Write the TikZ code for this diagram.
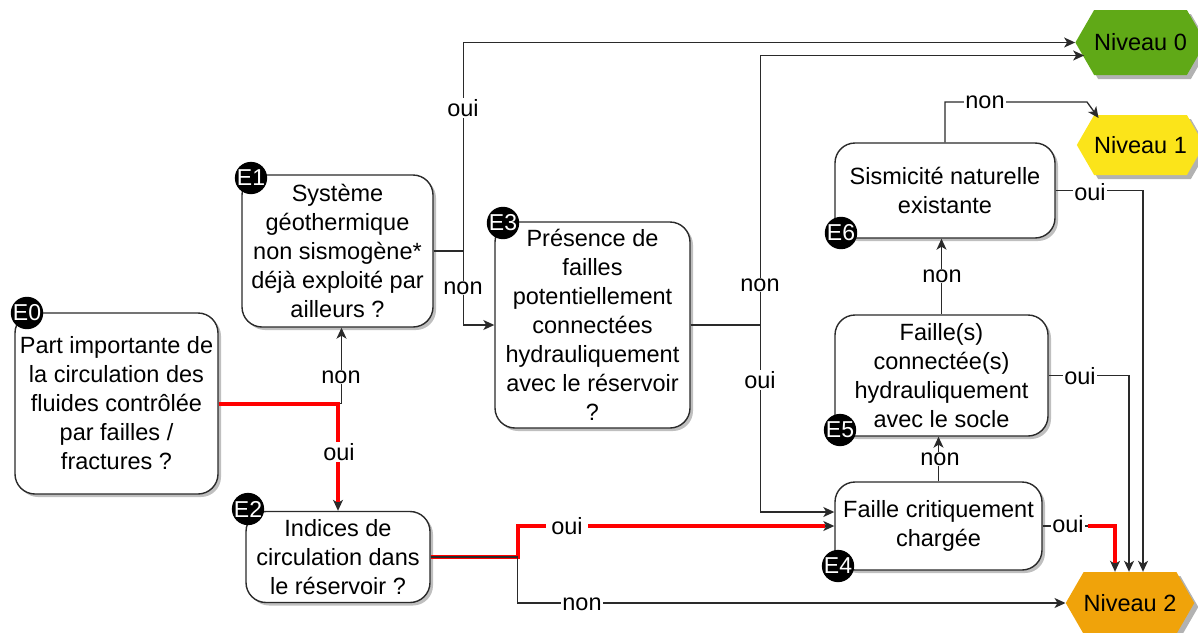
\documentclass[tikz,border=0pt]{standalone}
\usepackage{fontspec}
\setmainfont{Liberation Sans}
\usetikzlibrary{arrows.meta,shapes.symbols,shadows,calc}
\definecolor{nivgreen}{HTML}{60A917}
\definecolor{nivyellow}{HTML}{FBE41A}
\definecolor{nivorange}{HTML}{F0A30A}
\definecolor{ink}{HTML}{2A2A2A}
\begin{document}
\begin{tikzpicture}[x=1pt,y=-1pt,
  box/.style={draw=ink, line width=1.4pt, rounded corners=20pt, fill=white, align=center, inner sep=0pt,
    font=\fontsize{23.5}{29}\selectfont,
    drop shadow={shadow xshift=3pt, shadow yshift=-3pt, opacity=0.25, fill=black}},
  badge/.style={circle, fill=black, text=white, inner sep=0pt, minimum size=31pt,
    font=\fontsize{23}{23}\selectfont},
  hexa/.style={signal, signal to=east and west, signal pointer angle=120, inner sep=0pt,
    font=\fontsize{23.5}{29}\selectfont,
    drop shadow={shadow xshift=4pt, shadow yshift=-4pt, opacity=0.3, fill=black}},
  edge/.style={draw=ink, line width=1.3pt, -{Stealth[length=11pt,width=10pt,inset=3pt]}},
  hot/.style={draw=red, line width=4pt},
  lbl/.style={fill=white, inner sep=1pt, font=\fontsize{23.5}{29}\selectfont}
]
\useasboundingbox (0,0) rectangle (1198,632);

% question boxes
\node[box, minimum width=203, minimum height=181] (e0) at (116.5,403.5)
  {Part importante de\\la circulation des\\fluides contrôlée\\par failles /\\fractures ?};
\node[box, minimum width=191, minimum height=152] (e1) at (337.5,251)
  {Système\\géothermique\\non sismogène*\\déjà exploité par\\ailleurs ?};
\node[box, minimum width=195, minimum height=206] (e3) at (592.5,325)
  {Présence de\\failles\\potentiellement\\connectées\\hydrauliquement\\avec le réservoir\\?};
\node[box, minimum width=184, minimum height=91] (e2) at (338,557)
  {Indices de\\circulation dans\\le réservoir ?};
\node[box, minimum width=207, minimum height=88] (e4) at (938.5,526)
  {Faille critiquement\\chargée};
\node[box, minimum width=213, minimum height=121] (e5) at (941.5,375.5)
  {Faille(s)\\connectée(s)\\hydrauliquement\\avec le socle};
\node[box, minimum width=220, minimum height=95] (e6) at (945,190.5)
  {Sismicité naturelle\\existante};

% levels
\node[hexa, fill=nivgreen, minimum width=115, minimum height=65] (n0) at (1140.5,42.5) {Niveau 0};
\node[hexa, fill=nivyellow, minimum width=115, minimum height=60] (n1) at (1140.5,145) {Niveau 1};
\node[hexa, fill=nivorange, minimum width=113, minimum height=62] (n2) at (1130,603) {Niveau 2};

% badges
\node[badge] (b0) at (27,313) {E0};
\node[badge] (b1) at (251,178) {E1};
\node[badge] (b3) at (503,223) {E3};
\node[badge] (b2) at (248,509) {E2};
\node[badge] (b4) at (838,566) {E4};
\node[badge] (b5) at (840,430) {E5};
\node[badge] (b6) at (841,233) {E6};

% connectors
\draw[edge] (e0.east) -| ($(e1.south)+(4,0)$);
\draw[edge] (e0.east) -| (e2.north);
\draw[hot, shorten >=9pt] (e0.east) -| (e2.north);

\draw[edge] (e1.east) -- ++(30,0) |- (n0.west);
\draw[edge] (e1.east) -- ++(30,0) |- (e3.west);

\draw[edge] (e3.east) -- ++(70,0) |- ($(n0.west)+(9,13)$);
\draw[edge] (e3.east) -- ++(70,0) |- ($(e4.west)+(0,-14)$);

\draw[edge] (e2.east) -- ++(87,0) |- (e4.west);
\draw[hot, shorten >=9pt] (e2.east) -- ++(87,0) |- (e4.west);
\draw[edge] (e2.east) -- ++(87,0) |- (n2.west);

\draw[edge] (e4.east) -| ($(n2.north)+(-15,0)$);
\coordinate (r4) at ($(e4.east)+(45,0)$);
\draw[hot, shorten >=9pt] (r4) -| ($(n2.north)+(-15,0)$);
\draw[edge] (e5.east) -| ($(n2.north)+(-1,0)$);
\draw[edge] (e6.east) -| ($(n2.north)+(13,0)$);

\coordinate (k1) at (1087,102);
\draw[edge] (e6.north) |- (k1) -- ($(n1.west)+(22,-27)$);
\draw[edge] (e4.north) -- (e4.north |- e5.south);
\draw[edge] (e5.north) -- (e5.north |- e6.south);

% labels
\node[lbl] (l01) at (341,377) {non};
\node[lbl] (l02) at (339,452) {oui};
\node[lbl] (l11) at (463,108) {oui};
\node[lbl] (l12) at (463,288) {non};
\node[lbl] (l31) at (760,285) {non};
\node[lbl] (l32) at (760,380) {oui};
\node[lbl, inner xsep=5pt] (l21) at (567,526) {oui};
\node[lbl] (l22) at (582,604) {non};
\node[lbl] (l41) at (1068,524) {oui};
\node[lbl] (l51) at (1080,376) {oui};
\node[lbl] (l61) at (1090,192) {oui};
\node[lbl] (l62) at (985,102) {non};
\node[lbl] (l45) at (940,459) {non};
\node[lbl] (l56) at (942,276) {non};
\end{tikzpicture}
\end{document}
